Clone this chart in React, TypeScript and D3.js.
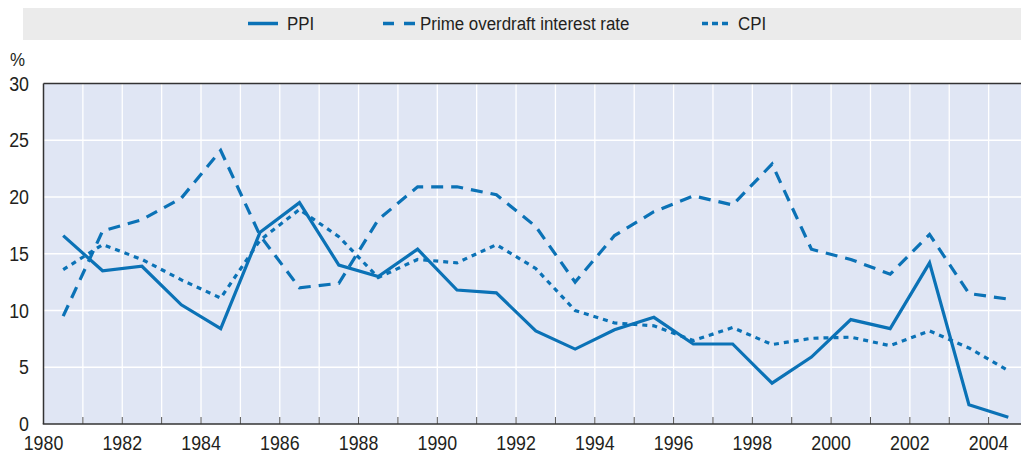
import React from "react";
import * as d3 from "d3";

const years = d3.range(1980, 2005).map((y) => y + 0.5);
const ppi = [16.6, 13.5, 13.9, 10.5, 8.4, 16.9, 19.5, 14.0, 13.0, 15.4, 11.8, 11.55, 8.2, 6.6, 8.3, 9.4, 7.05, 7.05, 3.6, 5.9, 9.2, 8.4, 14.2, 1.7, 0.6];
const prime = [9.5, 17.0, 18.0, 19.9, 24.1, 16.6, 12.0, 12.4, 18.0, 20.9, 20.9, 20.2, 17.4, 12.5, 16.6, 18.7, 20.1, 19.3, 22.9, 15.4, 14.5, 13.2, 16.7, 11.5, 11.0];
const cpi = [13.6, 15.8, 14.5, 12.7, 11.1, 16.2, 18.9, 16.5, 12.9, 14.5, 14.2, 15.8, 13.7, 10.0, 8.9, 8.65, 7.35, 8.5, 7.0, 7.55, 7.65, 6.9, 8.2, 6.7, 4.7];
const yTicks = [0, 5, 10, 15, 20, 25, 30];
const xLabelTicks = d3.range(1980, 2005, 2);
const xGridTicks = d3.range(1981, 2006, 1);
const seriesNames = ["PPI", "Prime overdraft interest rate", "CPI"];

const W = 1021;
const H = 454;
const left = 43.5;
const top = 83.5;
const bottom = 424;
const color = "#0b72b6";
const font = "'Liberation Sans', Arial, sans-serif";
const SX = 0.89;

function NText(props: { x: number; y: number; size: number; anchor?: string; children: React.ReactNode }) {
  const { x, y, size, anchor = "start", children } = props;
  return (
    <text
      transform={`translate(${x},${y}) scale(${SX},1)`}
      fontSize={size}
      textAnchor={anchor}
      fill="#231f20"
      fontFamily={font}
    >
      {children}
    </text>
  );
}

export default function App() {
  const x = d3.scaleLinear().domain([1980, 2005]).range([left, left + 25 * 39.38]);
  const y = d3.scaleLinear().domain([0, 30]).range([bottom, top]);
  const line = d3
    .line<number>()
    .x((_, i) => x(years[i]))
    .y((d) => y(d));
  const series = [
    { name: seriesNames[0], data: ppi, dash: undefined, ldash: undefined },
    { name: seriesNames[1], data: prime, dash: "12,8", ldash: "11,10" },
    { name: seriesNames[2], data: cpi, dash: "5,5", ldash: "6,4" },
  ];
  const legendLine = [
    [248, 278],
    [383, 415],
    [702, 730],
  ];
  const legendText = [287, 420, 738];
  return (
    <svg width={W} height={H} style={{ position: "absolute", left: 0, top: 0 }}>
      <rect x={23} y={8} width={W - 23} height={32} fill="#ebebeb" />
      {series.map((s, i) => (
        <g key={s.name}>
          <line
            x1={legendLine[i][0]}
            x2={legendLine[i][1]}
            y1={23.5}
            y2={23.5}
            stroke={color}
            strokeWidth={3.5}
            strokeDasharray={s.ldash}
          />
          <NText x={legendText[i]} y={30} size={19}>
            {s.name}
          </NText>
        </g>
      ))}
      <NText x={10} y={66} size={19}>%</NText>
      <rect x={left} y={top} width={W - left} height={bottom - top} fill="#e0e6f4" />
      {xGridTicks.map((t) => (
        <line key={"gx" + t} x1={x(t)} x2={x(t)} y1={top} y2={bottom} stroke="#fff" strokeWidth={1.3} />
      ))}
      {yTicks.filter((t) => t > 0 && t < 30).map((t) => (
        <line key={"gy" + t} x1={left} x2={W} y1={y(t)} y2={y(t)} stroke="#fff" strokeWidth={1.3} />
      ))}
      {xGridTicks.map((t) => (
        <line key={"tk" + t} x1={x(t)} x2={x(t)} y1={bottom - 7} y2={bottom} stroke="#555" strokeWidth={1} />
      ))}
      {series.map((s) => (
        <path
          key={s.name}
          d={line(s.data) || ""}
          fill="none"
          stroke={color}
          strokeWidth={3.2}
          strokeDasharray={s.dash}
          strokeLinejoin="miter"
        />
      ))}
      <line x1={left} x2={W} y1={top} y2={top} stroke="#333" strokeWidth={1.5} />
      <line x1={left} x2={left} y1={top} y2={bottom} stroke="#333" strokeWidth={1.5} />
      <line x1={left - 0.75} x2={W} y1={bottom} y2={bottom} stroke="#333" strokeWidth={1.5} />
      {yTicks.map((t) => (
        <NText key={"yl" + t} x={29} y={y(t) + 7} size={20} anchor="end">
          {t}
        </NText>
      ))}
      {xLabelTicks.map((t) => (
        <NText key={"xl" + t} x={x(t)} y={450} size={20} anchor="middle">
          {t}
        </NText>
      ))}
    </svg>
  );
}
